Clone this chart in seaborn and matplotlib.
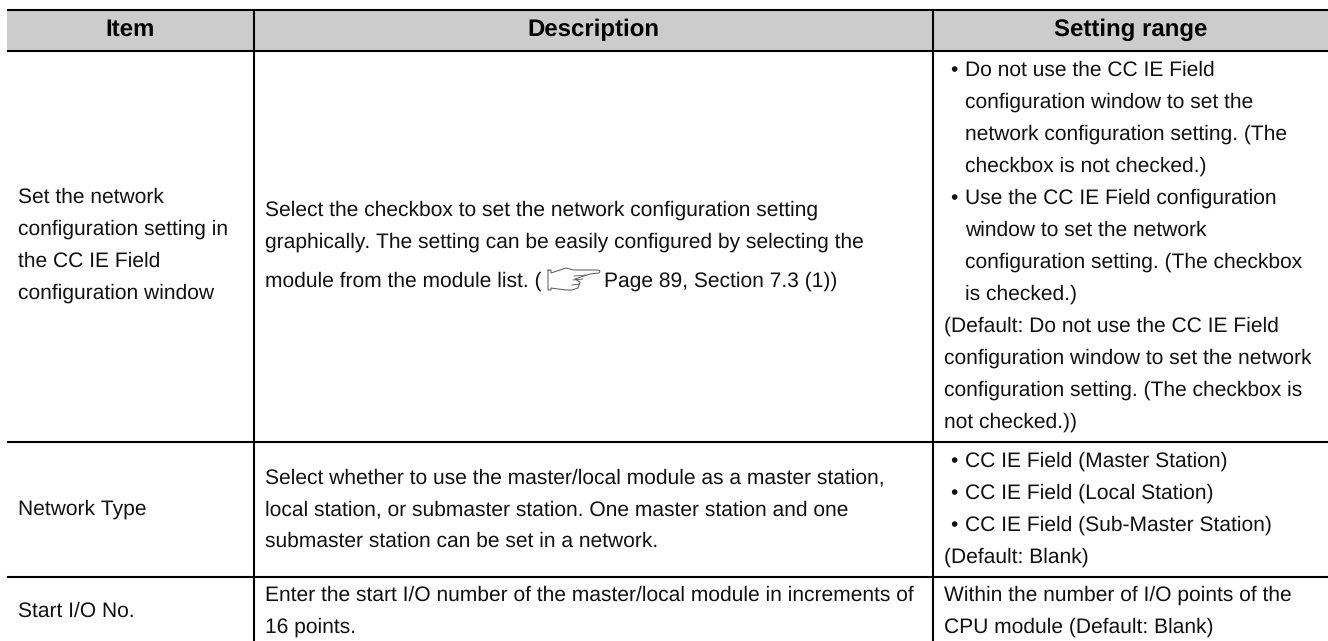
import matplotlib
matplotlib.use("Agg")
import matplotlib.pyplot as plt
import seaborn as sns

# ---- table content ----
header_labels = ["Item", "Description", "Setting range"]
item_row1 = ["Set the network", "configuration setting in", "the CC IE Field", "configuration window"]
item_row2 = ["Network Type"]
item_row3 = ["Start I/O No."]
desc_row1 = ["Select the checkbox to set the network configuration setting",
             "graphically. The setting can be easily configured by selecting the"]
desc_row1_ref_lead = "module from the module list. ("
desc_row1_ref_tail = "Page 89, Section 7.3 (1))"
desc_row2 = ["Select whether to use the master/local module as a master station,",
             "local station, or submaster station. One master station and one",
             "submaster station can be set in a network."]
desc_row3 = ["Enter the start I/O number of the master/local module in increments of",
             "16 points."]
range_row1 = [("b", "Do not use the CC IE Field"), ("c", "configuration window to set the"),
              ("c", "network configuration setting. (The"), ("c", "checkbox is not checked.)"),
              ("b", "Use the CC IE Field configuration"), ("c", "window to set the network"),
              ("c", "configuration setting. (The checkbox"), ("c", "is checked.)"),
              ("n", "(Default: Do not use the CC IE Field"), ("n", "configuration window to set the network"),
              ("n", "configuration setting. (The checkbox is"), ("n", "not checked.))")]
range_row2 = [("b", "CC IE Field (Master Station)"), ("b", "CC IE Field (Local Station)"),
              ("b", "CC IE Field (Sub-Master Station)"), ("n", "(Default: Blank)")]
range_row3 = [("n", "Within the number of I/O points of the"), ("n", "CPU module (Default: Blank)")]

# ---- page layout (pixels) ----
W, H = 1328, 641
LEFT, COL2, COL3, RIGHT = 7, 254, 933, 1328
TOP, HEAD, ROW1, ROW2 = 10, 51, 442, 577
LEAD = 32
FS = 15.1
FS_HEAD = 17.2

sns.set_theme(style="white")
plt.rcParams["font.family"] = ["Liberation Sans", "DejaVu Sans"]
plt.rcParams["text.hinting"] = "no_hinting"
plt.rcParams["text.hinting_factor"] = 1
fig = plt.figure(figsize=(W / 100, H / 100), dpi=100)
ax = fig.add_axes([0, 0, 1, 1])
ax.set_xlim(0, W)
ax.set_ylim(H, 0)
ax.set_xticks([])
ax.set_yticks([])
sns.despine(ax=ax, left=True, bottom=True, right=True, top=True)

ax.fill_between([LEFT, RIGHT], TOP, HEAD, color="#cccccc", lw=0, zorder=1)
ax.hlines([TOP, HEAD, ROW1, ROW2], LEFT, RIGHT, color="black", lw=1.5, zorder=2)
ax.vlines([COL2, COL3], TOP, H, color="black", lw=1.5, zorder=2)


def put(x, y, s, **kw):
    return ax.text(x, y, s, fontsize=FS, color="#111111", va="baseline", zorder=3, **kw)


# header
for cx, lab in zip([(LEFT + COL2) / 2, 593, (COL3 + RIGHT) / 2 + 0.5], header_labels):
    ax.text(cx, 36, lab, fontsize=FS_HEAD, fontweight="bold", color="black", ha="center", va="baseline", zorder=3)

# column 1
for i, s in enumerate(item_row1):
    put(18, 203 + i * LEAD, s)
put(18, 515, item_row2[0])
put(18, 617, item_row3[0])

# column 2
put(265, 216, desc_row1[0])
put(265, 248, desc_row1[1])
put(265, 287, desc_row1_ref_lead)
for i, s in enumerate(desc_row2):
    put(265, 483 + i * LEAD, s)
for i, s in enumerate(desc_row3):
    put(265, 601 + i * LEAD, s)

# pointing-hand reference icon
hand_x = [548, 548, 551, 551, 558, 566, 572, 578, 580, 575, 590, 599, 600, 598, 574, 566, 551, 551, 548]
hand_y = [270, 290, 290, 288, 289, 290, 290, 288, 282, 279, 274, 273, 271, 270, 270, 268, 273, 270, 270]
ax.plot(hand_x, hand_y, color="#555555", lw=0.7, zorder=3)
ax.plot([574, 586], [276, 275], color="#555555", lw=0.6, zorder=3)
ax.plot([573, 583], [280, 279], color="#555555", lw=0.6, zorder=3)
ax.plot([572, 580], [285, 284], color="#555555", lw=0.6, zorder=3)
put(604, 287, desc_row1_ref_tail)


# column 3
def range_block(rows, y0):
    for i, (kind, s) in enumerate(rows):
        y = y0 + i * LEAD
        if kind == "b":
            put(950, y, "\u2022")
        put(965 if kind in "bc" else 944, y, s)


range_block(range_row1, 76)
range_block(range_row2, 467)
range_block(range_row3, 601)

fig.savefig("out.png", dpi=100, facecolor="white")
